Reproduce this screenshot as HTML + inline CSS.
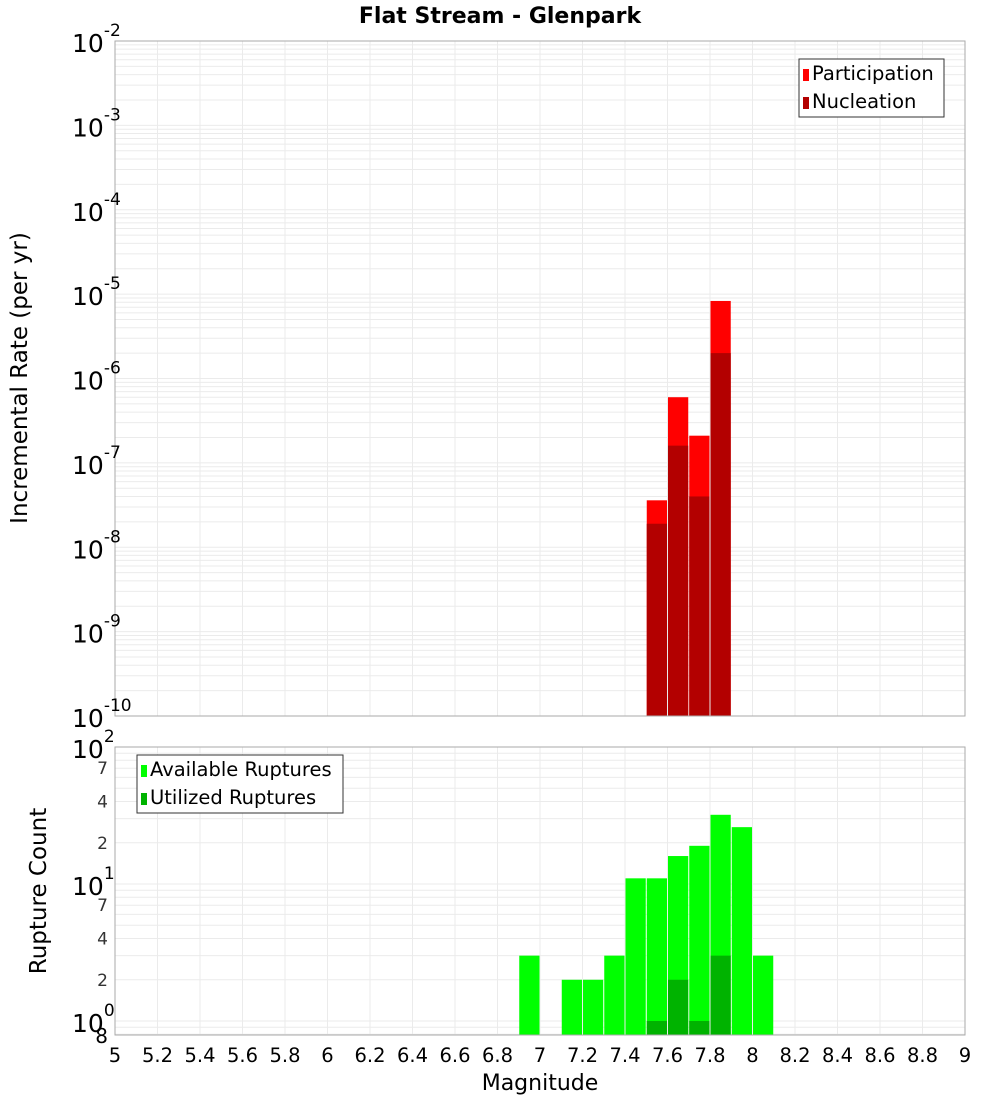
<!DOCTYPE html>
<html><head><meta charset="utf-8"><style>
body{margin:0;background:#fff;}
svg{display:block;font-family:"DejaVu Sans","Liberation Sans",sans-serif;}
</style></head><body>
<svg id="c" width="1000" height="1100" xmlns="http://www.w3.org/2000/svg">
<text x="500" y="23" text-anchor="middle" font-size="22" font-weight="bold">Flat Stream - Glenpark</text>
<text transform="translate(27,378) rotate(-90)" text-anchor="middle" font-size="23">Incremental Rate (per yr)</text>
<text transform="translate(46,891) rotate(-90)" text-anchor="middle" font-size="23">Rupture Count</text>
<text x="540" y="1090" text-anchor="middle" font-size="22">Magnitude</text>
<g id="g"></g>
</svg>
<script>
const topMags=[7.55,7.65,7.75,7.85];
const participation=[3.6e-8,6e-7,2.1e-7,8.3e-6];
const nucleation=[1.9e-8,1.6e-7,4e-8,2e-6];
const botMags=[6.95,7.15,7.25,7.35,7.45,7.55,7.65,7.75,7.85,7.95,8.05];
const available=[3,2,2,3,11,11,16,19,32,26,3];
const utilMags=[7.55,7.65,7.75,7.85];
const utilized=[1,2,1,3];
const xTicks=["5","5.2","5.4","5.6","5.8","6","6.2","6.4","6.6","6.8","7","7.2","7.4","7.6","7.8","8","8.2","8.4","8.6","8.8","9"];
const topExps=[-2,-3,-4,-5,-6,-7,-8,-9,-10];
const botExps=[2,1,0];
const botMinor=["7","4","2"];

const NS="http://www.w3.org/2000/svg";
const g=document.getElementById('g');
const L=115,R=965;
const X=m=>L+(m-5)/4*(R-L);
const T0=41,T1=716;
const Yt=v=>T1-(Math.log10(v)+10)*(T1-T0)/8;
const B0=747,B1=1035,BD=137;
const Yb=v=>1021-Math.log10(v)*BD;
function el(tag,attrs,parent){const e=document.createElementNS(NS,tag);for(const k in attrs)e.setAttribute(k,attrs[k]);(parent||g).appendChild(e);return e;}

const tg=el('g',{});


for(let d=-10;d<-2;d++)for(let k=1;k<10;k++){const y=Yt(k*Math.pow(10,d));el('line',{x1:L,x2:R,y1:y,y2:y,stroke:'#ebebeb','stroke-width':1},tg);}
xTicks.forEach(t=>{const x=X(+t);el('line',{x1:x,x2:x,y1:T0,y2:T1,stroke:'#ebebeb'},tg);});
const bg=el('g',{});


for(let d=-1;d<2;d++)for(let k=1;k<10;k++){const y=Yb(k*Math.pow(10,d));if(y>=B0&&y<=B1)el('line',{x1:L,x2:R,y1:y,y2:y,stroke:'#ebebeb'},bg);}
xTicks.forEach(t=>{const x=X(+t);el('line',{x1:x,x2:x,y1:B0,y2:B1,stroke:'#ebebeb'},bg);});

topMags.forEach((m,i)=>{
  const x=X(m-0.05)+0.5,w=X(m+0.05)-X(m-0.05)-1;
  const p=el('rect',{x:x,y:Yt(participation[i]),width:w,height:T1-Yt(participation[i]),fill:'#ff0000'});
  
  
  const n=el('rect',{x:x,y:Yt(nucleation[i]),width:w,height:T1-Yt(nucleation[i]),fill:'#b30000'});
  
  
});
botMags.forEach((m,i)=>{
  const x=X(m-0.05)+0.5,w=X(m+0.05)-X(m-0.05)-1;
  const r=el('rect',{x:x,y:Yb(available[i]),width:w,height:B1-Yb(available[i]),fill:'#00ff00'});
  
  
});
utilMags.forEach((m,i)=>{
  const x=X(m-0.05)+0.5,w=X(m+0.05)-X(m-0.05)-1;
  const r=el('rect',{x:x,y:Yb(utilized[i]),width:w,height:B1-Yb(utilized[i]),fill:'#00b300'});
  
  
});
el('rect',{x:L,y:T0,width:R-L,height:T1-T0,fill:'none',stroke:'#aaa'});
el('rect',{x:L,y:B0,width:R-L,height:B1-B0,fill:'none',stroke:'#aaa'});

topExps.forEach(e=>{
  const y=Yt(Math.pow(10,e));
  const t=el('text',{x:72,y:y+11,'font-size':25});
  
  
  t.textContent='10';
  const s=el('tspan',{dy:-16,'font-size':17},t);s.textContent=String(e);
});
botExps.forEach(e=>{
  const y=Yb(Math.pow(10,e));
  const t=el('text',{x:72,y:y+11,'font-size':25});
  
  
  t.textContent='10';
  const s=el('tspan',{dy:-16,'font-size':17},t);s.textContent=String(e);
});
[1,0].forEach(d=>botMinor.forEach(k=>{
  const y=Yb(+k*Math.pow(10,d));
  const t=el('text',{x:108,y:y+6,'font-size':17,'text-anchor':'end',fill:'#333'});
  
  
  t.textContent=k;
}));
const e8=el('text',{x:108,y:1043,'font-size':20,'text-anchor':'end'});


e8.textContent='8';
xTicks.forEach(t=>{
  const e=el('text',{x:X(+t),y:1062,'font-size':19.5,'text-anchor':'middle'});
  
  
  e.textContent=t;
});
function legend(x,y,w,items,name){
  const lg=el('g',{});
  
  
  el('rect',{x:x,y:y,width:w,height:58,fill:'#fff',stroke:'#333'},lg);
  items.forEach((it,i)=>{
    el('rect',{x:x+4,y:y+10+i*28,width:6,height:12,fill:it[1]},lg);
    const t=el('text',{x:x+13,y:y+21+i*28,'font-size':19.5},lg);
    
    
    t.textContent=it[0];
  });
}
legend(799,59,145,[['Participation','#ff0000'],['Nucleation','#b30000']],'top-legend');
legend(137,755,206,[['Available Ruptures','#00ff00'],['Utilized Ruptures','#00b300']],'bottom-legend');
</script>
</body></html>
